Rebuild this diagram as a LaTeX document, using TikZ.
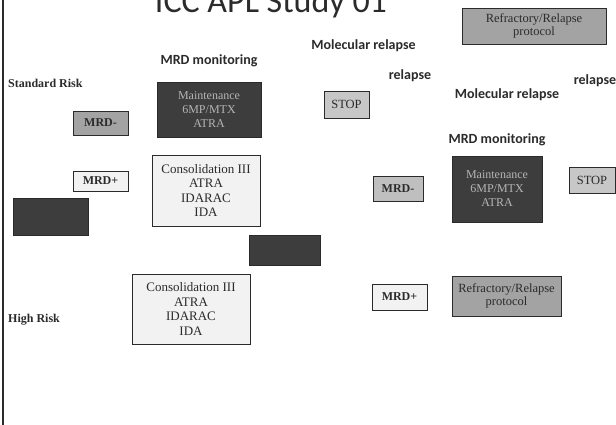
\documentclass[tikz,border=0pt]{standalone}
\usepackage{fontspec}
\setmainfont{Liberation Serif}
\newfontfamily\slidefont{Carlito}
\usepackage{tikz}
\usetikzlibrary{positioning}
\usepackage{xcolor}
\definecolor{box-dark}{gray}{0.24}
\definecolor{box-mid}{gray}{0.64}
\definecolor{box-stop}{gray}{0.78}
\definecolor{box-light}{gray}{0.95}
\definecolor{ink}{gray}{0.17}

\begin{document}
\begin{tikzpicture}[x=1pt, y=-1pt, node distance=10pt,
		box/.style={draw=ink, line width=0.9pt, inner sep=0pt, align=center, text=ink, font=\fontsize{12.5}{12.5}\selectfont},
		darkbox/.style={box, fill=box-dark, text=gray!58, font=\fontsize{12}{14}\selectfont},
		treatbox/.style={box, fill=box-light, font=\fontsize{13}{14.5}\selectfont},
		mrdbox/.style={box, font=\bfseries\fontsize{12}{12}\selectfont},
		risklabel/.style={inner sep=0pt, anchor=west, text=ink, font=\bfseries\fontsize{12}{12}\selectfont},
		eventlabel/.style={inner sep=0pt, text=ink, font=\slidefont\bfseries\fontsize{14}{14}\selectfont}]
	\useasboundingbox (0,0) rectangle (616,425);
	\fill[white] (0,0) rectangle (616,425);
	\draw[ink, line width=2pt] (3,0) -- (3,425);
	\node[inner sep=0pt, anchor=base, text=ink, font=\slidefont\fontsize{34}{34}\selectfont] (title) at (271,13) {ICC APL Study 01};
	% risk groups
	\node[risklabel] (standard) at (8,83) {Standard Risk};
	\node[risklabel] (high) at (8,320) {High Risk};
	% standard risk arm
	\node[darkbox, minimum width=104pt, minimum height=55pt] (maint1) at (209,109.5) {Maintenance\\6MP/MTX\\ATRA};
	\node[eventlabel, above=14pt of maint1] (monitor1) {MRD monitoring};
	\node[mrdbox, fill=box-mid, minimum width=55pt, minimum height=24pt] (minus1) at (100.5,123) {MRD-};
	\node[mrdbox, fill=box-light, minimum width=55pt, minimum height=20pt] (plus1) at (100.5,181) {MRD+};
	\node[treatbox, minimum width=108pt, minimum height=71pt] (cons1) at (206,190.5) {Consolidation III\\ATRA\\IDARAC\\IDA};
	\node[box, fill=box-dark, minimum width=75pt, minimum height=37pt] (dark1) at (50.5,216.5) {};
	\node[box, fill=box-dark, minimum width=71pt, minimum height=30pt] (dark2) at (284.5,250) {};
	% high risk arm
	\node[treatbox, minimum width=118pt, minimum height=70pt] (cons2) at (191,309) {Consolidation III\\ATRA\\IDARAC\\IDA};
	% relapse branches
	\node[eventlabel] (molrel1) at (363.5,46) {Molecular relapse};
	\node[eventlabel] (relapse1) at (410,76) {relapse};
	\node[box, fill=box-stop, minimum width=45pt, minimum height=27pt] (stop1) at (346.5,104.5) {STOP};
	\node[box, fill=box-mid, minimum width=144pt, minimum height=36pt] (refr1) at (534,26) {Refractory/Relapse\\protocol};
	\node[eventlabel] (molrel2) at (507,95) {Molecular relapse};
	\node[eventlabel] (relapse2) at (595,81) {relapse};
	\node[darkbox, minimum width=90pt, minimum height=66pt] (maint2) at (497,189) {Maintenance\\6MP/MTX\\ATRA};
	\node[eventlabel, above=9pt of maint2] (monitor2) {MRD monitoring};
	\node[mrdbox, fill=gray!50, minimum width=50pt, minimum height=25pt] (minus2) at (398,188.5) {MRD-};
	\node[box, fill=box-stop, minimum width=46pt, minimum height=26pt] (stop2) at (592,180) {STOP};
	\node[mrdbox, fill=box-light, minimum width=55pt, minimum height=26pt] (plus2) at (399.5,297) {MRD+};
	\node[box, fill=box-mid, minimum width=109pt, minimum height=40pt] (refr2) at (506.5,296) {Refractory/Relapse\\protocol};
\end{tikzpicture}
\end{document}
